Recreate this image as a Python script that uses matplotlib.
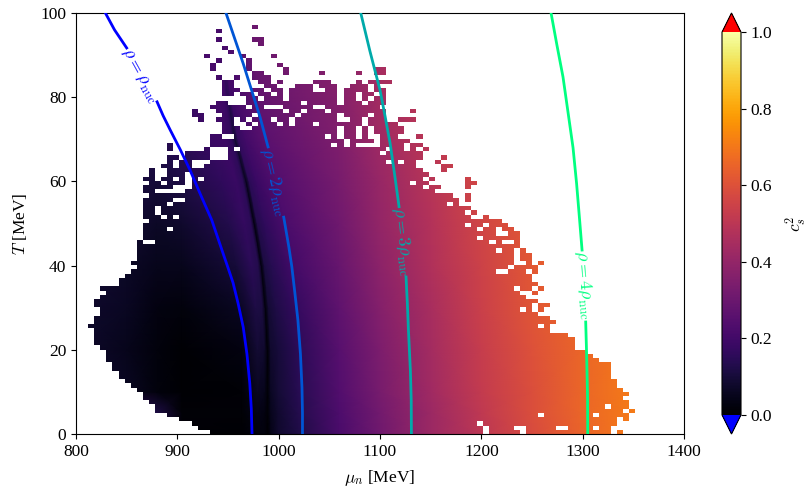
import numpy as np
import matplotlib
matplotlib.use('Agg')
import matplotlib.pyplot as plt

plt.rcParams['font.family'] = ['Liberation Serif', 'DejaVu Serif']
plt.rcParams['mathtext.fontset'] = 'cm'
plt.rcParams['font.size'] = 12.5

# mesh nodes: temperature rows, position of the dark ridge per row
t_nodes = [0, 5, 10, 20, 30, 40, 50, 60, 70, 80, 90, 100]
ridge_mu = [989.5, 989, 989, 989, 987, 983, 976, 968, 957, 950, 945, 940]
left_mu = [800, 850, 880, 905]
ridge_offsets = [-25, -10, -3, 0, 3, 10, 30]
right_mu = [1060, 1100, 1150, 1200, 1250, 1300, 1350, 1400]

# sound speed squared at the mesh nodes, one row per t_nodes entry
cs2_nodes = [
    [.15, .15, .12, .01, .00, .02, .02, .00, .04, .08, .12, .22, .31, .42, .50, .58, .65, .71, .75],
    [.20, .20, .12, .01, .01, .04, .03, .01, .05, .08, .13, .23, .32, .42, .51, .59, .66, .71, .75],
    [.09, .06, .02, .00, .01, .06, .05, .01, .06, .09, .14, .24, .33, .43, .52, .59, .66, .71, .75],
    [.08, .05, .02, .00, .03, .09, .08, .01, .08, .10, .15, .25, .34, .44, .53, .60, .66, .71, .75],
    [.08, .06, .03, .02, .06, .12, .11, .02, .09, .12, .17, .27, .36, .45, .54, .61, .67, .71, .75],
    [.10, .07, .05, .05, .10, .15, .13, .03, .11, .14, .20, .29, .38, .47, .55, .62, .68, .71, .75],
    [.12, .09, .07, .08, .13, .17, .15, .03, .13, .16, .22, .31, .40, .48, .56, .62, .68, .71, .75],
    [.14, .11, .10, .12, .16, .18, .15, .05, .15, .18, .24, .33, .41, .49, .57, .63, .68, .71, .75],
    [.16, .14, .13, .15, .18, .19, .16, .09, .17, .20, .26, .35, .43, .50, .58, .63, .68, .71, .75],
    [.18, .17, .17, .18, .20, .21, .19, .14, .19, .22, .28, .36, .44, .51, .59, .63, .68, .71, .75],
    [.18, .18, .18, .19, .21, .22, .21, .20, .22, .23, .29, .37, .45, .52, .59, .63, .68, .71, .75],
    [.18, .18, .18, .20, .22, .23, .22, .21, .23, .24, .30, .38, .45, .52, .59, .63, .68, .71, .75],
]

# filled cells of the 100x100 grid, first list is the top row (T just below 100)
filled_rows = [
    [], [], [],
    [(29, 29)],
    [(23, 23)],
    [],
    [(23, 23), (29, 30)],
    [(30, 30)],
    [(24, 24)],
    [(25, 25)],
    [(21, 21), (27, 27), (32, 32)],
    [(23, 23), (28, 28)],
    [(22, 22), (28, 28), (33, 33)],
    [(22, 22), (28, 28), (34, 34), (49, 50)],
    [(29, 30), (34, 34), (40, 40), (46, 46), (49, 50)],
    [(23, 23), (26, 26), (29, 31)],
    [(24, 25), (30, 31), (33, 33), (39, 41), (46, 46), (48, 51)],
    [(24, 25), (31, 32), (36, 38), (40, 42), (45, 47), (49, 49)],
    [(24, 26), (29, 30), (32, 33), (35, 38), (41, 42), (44, 47), (49, 50)],
    [(24, 25), (27, 28), (30, 31), (33, 33), (35, 42), (44, 45), (47, 48), (50, 50)],
    [(28, 29), (31, 33), (35, 42), (44, 45), (47, 47), (49, 50)],
    [(23, 24), (28, 36), (38, 42), (44, 46), (48, 50)],
    [(22, 27), (29, 30), (34, 38), (41, 49)],
    [(19, 19), (23, 33), (35, 36), (38, 40), (42, 50), (55, 55)],
    [(19, 20), (24, 28), (30, 35), (37, 42), (44, 47), (49, 50)],
    [(20, 20), (23, 25), (27, 27), (29, 31), (33, 34), (36, 42), (45, 46), (48, 50), (53, 55)],
    [(24, 25), (28, 28), (30, 32), (34, 34), (36, 38), (40, 46), (48, 52)],
    [(24, 26), (29, 42), (44, 45), (47, 47), (49, 53)],
    [(24, 28), (29, 42), (44, 45), (47, 47), (49, 53)],
    [(22, 23), (26, 40), (42, 42), (44, 45), (47, 47), (50, 52), (56, 56)],
    [(22, 43), (45, 48), (50, 54)],
    [(15, 15), (22, 41), (43, 43), (45, 45), (50, 53), (55, 56)],
    [(15, 15), (21, 21), (25, 25), (27, 50), (52, 53), (55, 55), (57, 57)],
    [(18, 21), (25, 49), (51, 56)],
    [(15, 16), (18, 21), (25, 56), (60, 60)],
    [(15, 15), (17, 18), (22, 50), (52, 52), (54, 55), (59, 59)],
    [(14, 15), (17, 18), (21, 55), (60, 61)],
    [(12, 12), (15, 56), (60, 60)],
    [(12, 12), (15, 17), (19, 57)],
    [(11, 12), (14, 15), (17, 17), (19, 19), (21, 56), (58, 58), (64, 64)],
    [(12, 13), (15, 17), (19, 54), (56, 57), (64, 65)],
    [(11, 15), (19, 56), (58, 59), (64, 64)],
    [(11, 12), (18, 58)],
    [(12, 61), (64, 64)],
    [(11, 15), (18, 62), (64, 64)],
    [(11, 14), (16, 60), (62, 62)],
    [(11, 12), (14, 64)],
    [(11, 12), (14, 63), (65, 65)],
    [(11, 13), (15, 15), (17, 64), (67, 67)],
    [(12, 69)],
    [(11, 63), (65, 66), (68, 70)],
    [(11, 14), (16, 65), (67, 68), (70, 71)],
    [(11, 68), (71, 72)],
    [(11, 65), (67, 72)],
    [(10, 10), (13, 67), (69, 69), (72, 72)],
    [(10, 72)],
    [(10, 68), (70, 71), (73, 73)],
    [(10, 71), (73, 74)],
    [(10, 71), (73, 74)],
    [(9, 71), (74, 74), (76, 76)],
    [(10, 70), (72, 75)],
    [(9, 68), (71, 73), (75, 75)],
    [(8, 74)],
    [(7, 74)],
    [(7, 75)],
    [(4, 71), (73, 74), (76, 76)],
    [(5, 72), (75, 75)],
    [(4, 73)],
    [(3, 75)],
    [(3, 74), (76, 77)],
    [(4, 72), (74, 74), (76, 76)],
    [(4, 75)],
    [(3, 77)],
    [(3, 78)],
    [(2, 75), (77, 77)],
    [(3, 77)],
    [(3, 80)],
    [(3, 81)],
    [(3, 81)],
    [(4, 81)],
    [(5, 83)],
    [(5, 84)],
    [(5, 85)],
    [(6, 87)],
    [(6, 87)],
    [(7, 87)],
    [(7, 87)],
    [(8, 88)],
    [(9, 88)],
    [(10, 89)],
    [(11, 90)],
    [(11, 89)],
    [(12, 90)],
    [(13, 86), (88, 90)],
    [(13, 89), (91, 91)],
    [(15, 75), (77, 84), (86, 90)],
    [(17, 88), (90, 90)],
    [(19, 65), (67, 88)],
    [(20, 66), (68, 71), (74, 78), (81, 84), (86, 87)],
    [(22, 66), (68, 72), (74, 87), (89, 89)],
]

# constant density curves, nan leaves the gap for the label
rho1_mu = [829, 838, 850, np.nan, 880, 886, 893, 903, 912.5, 923, 934, 945, 950, 955,
           960, 965, 968.7, 971.5, 973, 973.7]
rho1_t = [100, 96, 91.7, np.nan, 78.9, 75.6, 72.2, 67.5, 62.7, 56.8, 50.8, 43, 39.5, 35.9,
          31, 25.4, 19, 12, 6, 0]
rho2_mu = [948, 956.5, 965, 973.5, 981.6, 989.5, np.nan, 1005, 1010, 1013, 1016, 1019,
           1021.5, 1023, 1023.5, 1023.5]
rho2_t = [100, 94, 88, 81.5, 75.3, 68.2, np.nan, 51.5, 44.5, 39.7, 33.5, 27, 19, 11, 5, 0]
rho3_mu = [1081, 1090, 1100, 1105, 1110, 1114.5, 1118.8, np.nan, 1125.7, 1127, 1128, 1130,
           1130.8, 1131]
rho3_t = [100, 91, 81.7, 75.5, 69, 61.5, 54, np.nan, 37.3, 31, 25, 15, 8, 0]
rho4_mu = [1268.8, 1274.5, 1280.6, 1285.5, 1290.5, 1294, 1297, 1299.4, np.nan, 1303, 1304,
           1304.8, 1305]
rho4_t = [100, 92.5, 84.8, 76.5, 68, 59.5, 50.8, 43.7, np.nan, 26.6, 18, 9, 0]

rho_labels = [r'$\rho = \rho_{\rm nuc}$', r'$\rho = 2\rho_{\rm nuc}$',
              r'$\rho = 3\rho_{\rm nuc}$', r'$\rho = 4\rho_{\rm nuc}$']
label_mu = [863, 995.4, 1122, 1301.3]
label_t = [85.3, 60, 45.8, 35.4]
label_rot = [-61, -77, -83, -85]

fig = plt.figure(figsize=(8.08, 4.9), dpi=100)
ax = fig.add_axes([76 / 808, 56 / 490, 608 / 808, 421 / 490])
cax = fig.add_axes([722 / 808, 56 / 490, 19 / 808, 421 / 490])

cmap = plt.get_cmap('inferno').copy()
cmap.set_under('blue')
cmap.set_over('red')

# the nodes around the ridge follow it from row to row
mu_mesh = []
t_mesh = []
for t, r in zip(t_nodes, ridge_mu):
    mu_mesh.append(left_mu + [r + d for d in ridge_offsets] + right_mu)
    t_mesh.append([t] * len(mu_mesh[-1]))
mesh = ax.pcolormesh(np.array(mu_mesh), np.array(t_mesh), np.array(cs2_nodes),
                     shading='gouraud', cmap=cmap, vmin=0, vmax=1, zorder=1)

# white out the cells without a value
holes = np.ones((100, 100, 4))
for i, spans in enumerate(filled_rows):
    for a, b in spans:
        holes[i, a:b + 1, 3] = 0
ax.imshow(holes, extent=[800, 1400, 0, 100], aspect='auto',
          interpolation='nearest', zorder=2)

winter = plt.get_cmap('winter')
curves = [(rho1_mu, rho1_t), (rho2_mu, rho2_t), (rho3_mu, rho3_t), (rho4_mu, rho4_t)]
for i, (mu, t) in enumerate(curves):
    col = winter(i / 3)
    ax.plot(mu, t, color=col, lw=2, zorder=3)
    ax.text(label_mu[i], label_t[i], rho_labels[i], color=col, rotation=label_rot[i],
            ha='center', va='center', fontsize=13, zorder=4)

ax.set_xlim(800, 1400)
ax.set_ylim(0, 100)
ax.set_xticks([800, 900, 1000, 1100, 1200, 1300, 1400])
ax.set_yticks([0, 20, 40, 60, 80, 100])
ax.set_xlabel(r'$\mu_n$ [MeV]', labelpad=6)
ax.set_ylabel(r'$T$ [MeV]', labelpad=8)

cb = fig.colorbar(mesh, cax=cax, extend='both')
cb.set_ticks([0, 0.2, 0.4, 0.6, 0.8, 1.0])
cb.set_label(r'$c_s^2$', labelpad=8)

fig.savefig('out.png', dpi=100)
